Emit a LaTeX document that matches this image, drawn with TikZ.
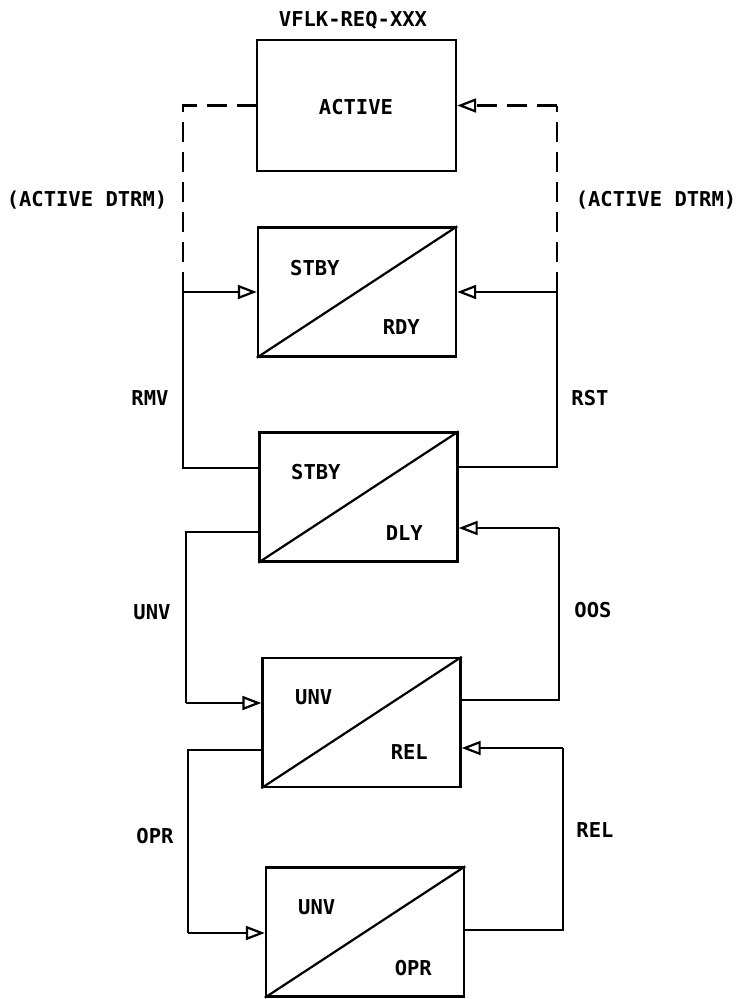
\documentclass[tikz,border=0pt]{standalone}
\usepackage{fontspec}
\newfontfamily\plotfont{DejaVu Sans Mono}[BoldFont={DejaVu Sans Mono Bold}]
\usetikzlibrary{arrows.meta}
\begin{document}
\begin{tikzpicture}[x=1pt,y=-1pt,
  every node/.style={font=\plotfont\bfseries\fontsize{20.5}{22}\selectfont, inner sep=0pt},
  box/.style={draw, line width=2.4pt, minimum width=198pt, minimum height=129pt},
  wire/.style={line width=2.2pt},
  dwire/.style={line width=2.2pt, dash pattern=on 20pt off 10pt},
  flow/.style={line width=2.2pt, -{Triangle[open, length=19pt, width=14pt, line width=2.2pt]}},
  diag/.style={line width=2.2pt}
]
\useasboundingbox (0,0) rectangle (737,999);

% boxes
\node[box, minimum width=199pt, minimum height=131pt] (b1) at (356.5,105.5) {};
\node[box] (b2) at (357,292) {};
\node[box] (b3) at (358.5,497) {};
\node[box] (b4) at (361.5,722.5) {};
\node[box] (b5) at (365,932) {};

\draw[diag] (b2.south west) -- (b2.north east);
\draw[diag] (b3.south west) -- (b3.north east);
\draw[diag] (b4.south west) -- (b4.north east);
\draw[diag] (b5.south west) -- (b5.north east);

% texts in boxes
\node (title) at (353,20) {VFLK-REQ-XXX};
\node (tact) at (356,107) {ACTIVE};
\node[anchor=west] (t2a) at (290,268) {STBY};
\node[anchor=east] (t2b) at (420,327) {RDY};
\node[anchor=west] (t3a) at (291,472) {STBY};
\node[anchor=east] (t3b) at (423,533) {DLY};
\node[anchor=west] (t4a) at (295,697) {UNV};
\node[anchor=east] (t4b) at (428,752) {REL};
\node[anchor=west] (t5a) at (298,907) {UNV};
\node[anchor=east] (t5b) at (432,968) {OPR};

% side labels
\node (la1) at (87,200) {(ACTIVE DTRM)};
\node (la2) at (656,200) {(ACTIVE DTRM)};
\node (lrmv) at (150,398) {RMV};
\node (lrst) at (590,398) {RST};
\node (lunv) at (152,612) {UNV};
\node (loos) at (593,610) {OOS};
\node (lopr) at (155,836) {OPR};
\node (lrel) at (595,830) {REL};

% junction coordinates
\coordinate (jl) at (183,292);
\coordinate (jr) at (557,292);
\coordinate (jl2) at (186,703);
\coordinate (jr2) at (559,528);
\coordinate (jl3) at (188,933);
\coordinate (jr3) at (563,748);

% RMV / RST to STBY RDY
\draw[wire] ([yshift=29pt]b3.west) -| (jl);
\draw[flow] (jl) -- (b2.west);
\draw[wire] ([yshift=30pt]b3.east) -| (jr);
\draw[flow] (jr) -- (b2.east);

% ACTIVE DTRM dashed
\draw[dwire] (jl) -- (jl |- b1.west) -- (b1.west);
\draw[dwire] (jr) -- (jr |- b1.east);
\draw[flow, dash pattern=on 20pt off 10pt] (jr |- b1.east) -- (b1.east);

% UNV / OOS
\draw[wire] ([yshift=-35pt]b3.west) -| (jl2);
\draw[flow] (jl2) -- (b4.west |- jl2);
\draw[wire] ([yshift=22.5pt]b4.east) -| (jr2);
\draw[flow] (jr2) -- (b3.east |- jr2);

% OPR / REL
\draw[wire] ([yshift=-27.5pt]b4.west) -| (jl3);
\draw[flow] (jl3) -- (b5.west |- jl3);
\draw[wire] ([yshift=2pt]b5.east) -| (jr3);
\draw[flow] (jr3) -- (b4.east |- jr3);
\end{tikzpicture}
\end{document}
